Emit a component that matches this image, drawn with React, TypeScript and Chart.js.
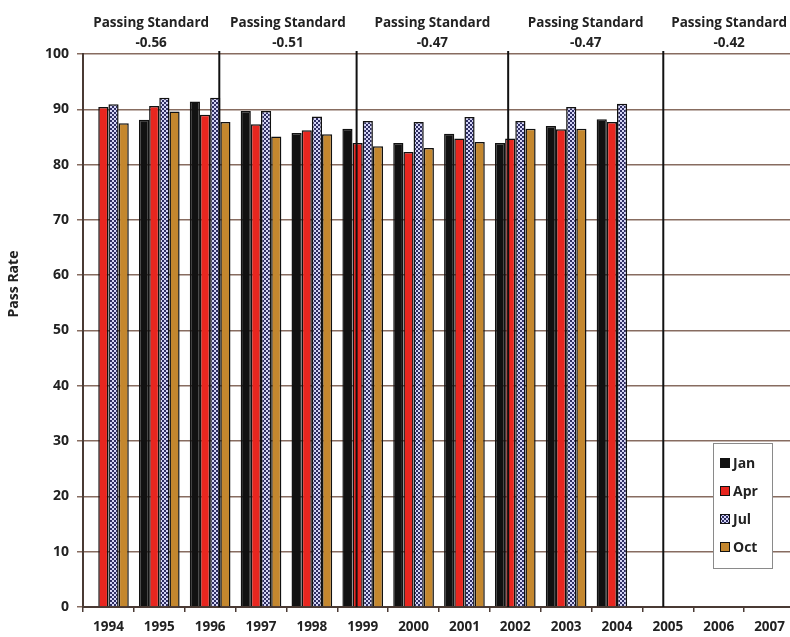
import React, { useEffect, useRef } from 'react';
import { Chart, registerables } from 'chart.js';

Chart.register(...registerables);

const years = ['1994', '1995', '1996', '1997', '1998', '1999', '2000', '2001', '2002', '2003', '2004', '2005', '2006', '2007'];
const janRates = [null, 88.1, 91.4, 89.7, 85.7, 86.5, 83.9, 85.6, 83.9, 87.0, 88.2, null, null, null];
const aprRates = [90.4, 90.6, 89.0, 87.3, 86.2, 83.9, 82.3, 84.7, 84.7, 86.4, 87.7, null, null, null];
const julRates = [90.9, 92.1, 92.1, 89.7, 88.7, 87.9, 87.7, 88.6, 87.9, 90.4, 91.0, null, null, null];
const octRates = [87.5, 89.6, 87.7, 85.1, 85.5, 83.3, 83.0, 84.1, 86.5, 86.5, null, null, null, null];
const seriesNames = ['Jan', 'Apr', 'Jul', 'Oct'];
// positions (in category index units) where the passing standard changed
const standardChangeAt = [2.18, 4.88, 7.86, 10.91];
const passingStandards = ['-0.56', '-0.51', '-0.47', '-0.47', '-0.42'];
const yMin = 0;
const yMax = 100;
const yStep = 10;

const FONT = '"Open Sans", "DejaVu Sans", sans-serif';

function makeJulPattern(ctx: CanvasRenderingContext2D) {
  const c = document.createElement('canvas');
  c.width = 4;
  c.height = 4;
  const p = c.getContext('2d')!;
  p.fillStyle = '#2e2e62';
  p.fillRect(0, 0, 4, 4);
  p.fillStyle = '#d4d4f6';
  p.fillRect(0, 0, 2, 2);
  p.fillRect(2, 2, 2, 2);
  return ctx.createPattern(c, 'repeat') as CanvasPattern;
}

export default function App() {
  const ref = useRef<HTMLCanvasElement | null>(null);

  useEffect(() => {
    const canvas = ref.current!;
    const ctx = canvas.getContext('2d')!;
    const julFill = makeJulPattern(ctx);
    const fills = ['#111111', '#e8261f', julFill, '#c4872e'];

    const overlay = {
      id: 'overlay',
      afterDatasetsDraw(chart: any) {
        const c = chart.ctx as CanvasRenderingContext2D;
        const area = chart.chartArea;
        const xs = chart.scales.x;
        c.save();
        // standard change lines
        const linePx = standardChangeAt.map((v) => xs.getPixelForValue(v));
        c.strokeStyle = '#111';
        c.lineWidth = 2;
        linePx.forEach((x) => {
          c.beginPath();
          c.moveTo(x, area.top - 3);
          c.lineTo(x, area.bottom);
          c.stroke();
        });
        // labels above segments
        const bounds = [area.left, ...linePx, area.right];
        c.fillStyle = '#222';
        c.textAlign = 'center';
        c.textBaseline = 'middle';
        c.font = `bold 13.5px ${FONT}`;
        for (let i = 0; i < passingStandards.length; i++) {
          const cx = (bounds[i] + bounds[i + 1]) / 2;
          c.fillText('Passing Standard', cx, area.top - 31);
          c.fillText(passingStandards[i], cx, area.top - 11);
        }
        // y-axis title
        c.save();
        c.translate(14, area.top + 230);
        c.rotate(-Math.PI / 2);
        c.font = `bold 14px ${FONT}`;
        c.fillText('Pass Rate', 0, 0);
        c.restore();
        // legend
        const bx = area.right - 82;
        const by = area.bottom - 164;
        const bw = 59;
        const bh = 125;
        c.fillStyle = '#ffffff';
        c.fillRect(bx, by, bw, bh);
        c.strokeStyle = '#8a8a8a';
        c.lineWidth = 1;
        c.strokeRect(bx + 0.5, by + 0.5, bw, bh);
        c.font = `bold 14px ${FONT}`;
        c.textAlign = 'left';
        seriesNames.forEach((name, i) => {
          const iy = by + 20 + i * 28;
          c.fillStyle = fills[i] as any;
          c.fillRect(bx + 7, iy - 5, 10, 10);
          c.strokeStyle = '#111';
          c.lineWidth = 1;
          c.strokeRect(bx + 7.5, iy - 4.5, 9, 9);
          c.fillStyle = '#222';
          c.fillText(name, bx + 20, iy + 1);
        });
        c.restore();
      },
    };

    const chart = new Chart(ctx, {
      type: 'bar',
      data: {
        labels: years,
        datasets: [janRates, aprRates, julRates, octRates].map((d, i) => ({
          label: seriesNames[i],
          data: d as any,
          backgroundColor: fills[i] as any,
          borderColor: '#111',
          borderWidth: 1.5,
          categoryPercentage: 0.8,
          barPercentage: 1.0,
        })),
      },
      options: {
        responsive: false,
        animation: false,
        layout: { padding: { top: 54, right: 5, left: 0, bottom: 0 } },
        plugins: { legend: { display: false }, tooltip: { enabled: false } },
        scales: {
          x: {
            offset: true,
            grid: { offset: true, drawOnChartArea: false, drawTicks: true, tickLength: 5, color: '#4a3a34', lineWidth: 1.5 },
            border: { display: true, color: '#4a3a34', width: 2 },
            ticks: { color: '#222', font: { family: FONT, size: 13.5, weight: 'bold' }, padding: 7, maxRotation: 0, autoSkip: false },
            afterFit: (s: any) => { s.height = 30; },
          },
          y: {
            min: yMin,
            max: yMax,
            ticks: { stepSize: yStep, color: '#222', font: { family: FONT, size: 14, weight: 'bold' }, padding: 8 },
            grid: { color: 'rgb(135,108,96)', lineWidth: 1.5, tickLength: 6, drawTicks: true },
            border: { display: true, color: '#4a3a34', width: 2 },
            afterFit: (s: any) => { s.width = 83; },
          },
        },
      },
      plugins: [overlay],
    });
    return () => chart.destroy();
  }, []);

  return (
    <div style={{ position: 'absolute', left: 0, top: 0, width: 790, height: 637, overflow: 'hidden', background: '#fff' }}>
      <canvas ref={ref} width={800} height={637} style={{ width: 800, height: 637, display: 'block' }} />
    </div>
  );
}
